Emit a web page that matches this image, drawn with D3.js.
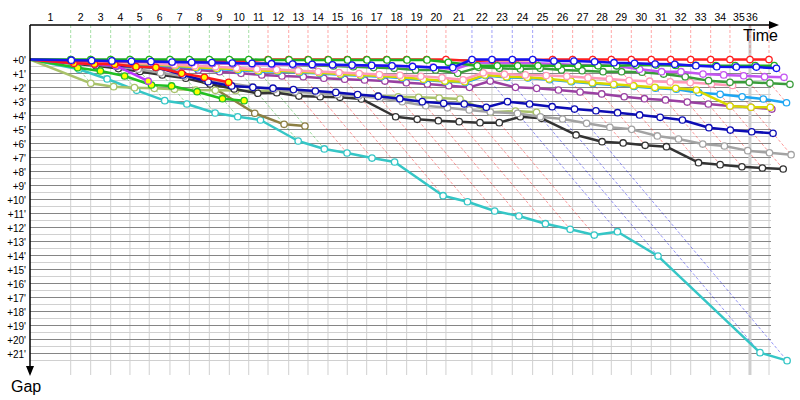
<!DOCTYPE html>
<html><head><meta charset="utf-8">
<script src="https://cdn.jsdelivr.net/npm/d3@7"></script>
<style>body{margin:0;background:#fff}svg{display:block}text{font-family:"Liberation Sans",Arial,sans-serif;fill:#000}</style>
</head><body><svg id="c" width="800" height="400"></svg>
<script>
// ---- data ----
// leader's elapsed time (min) at the end of each lap, lap 0 = start
const lapTimes = [0, 3.44, 5.13, 6.82, 8.45, 10.08, 11.83, 13.47, 15.16, 16.85, 18.49, 20.12, 21.87, 23.50, 25.19, 26.82, 28.46, 30.15, 31.84, 33.53, 35.16, 37.36, 39.05, 40.77, 42.49, 44.18, 45.87, 47.57, 49.14, 50.83, 52.52, 54.16, 55.85, 57.54, 59.17, 60.86, 62.47];
const timeLimit = 60.86;
const lapLabels = ["1","2","3","4","5","6","7","8","9","10","11","12","13","14","15","16","17","18","19","20","21","22","23","24","25","26","27","28","29","30","31","32","33","34","35","36"];
const gapTicks = [0,1,2,3,4,5,6,7,8,9,10,11,12,13,14,15,16,17,18,19,20,21];

// gap to leader (min) per lap, index = lap
const gapCyan = [0, 0.7,1.39,2.2,2.94,3.18,3.82,4.09,4.32,5.82,6.39,6.68,7.04,7.32,9.73,10.16,10.82,11.18,11.73,12.13,12.54,12.3,14.04,20.94,21.51];
const gapDarkOlive = [0, 0.2,0.3,0.4,0.5,0.6,0.75,2.0,3.84,4.63,4.75];
const gapLightOlive = [0, 1.7,1.94,2.01,2.06,2.13,2.18,2.2,2.22,2.25,2.25, 2.3,2.34,2.41,2.59,2.59,2.66,2.7,2.75,2.82, 3.77,3.68,3.77];
const gapBlack = [0, 0.3,0.45,0.65,0.85,1.1,1.34,1.75,2.1,2.41,2.37, 2.61,2.66,2.7,2.82,4.09,4.27,4.37,4.44,4.51,4.51, 4.09,4.2,5.39,5.87,5.96,6.13,6.23,7.37,7.51,7.66,7.75,7.82];
const gapGrey = [0, 0.25,0.35,0.5,0.7,0.95,1.2,1.45,1.7,1.95,2.15, 2.3,2.4,2.5,2.6,2.77,3.01,3.3,3.45,3.6,3.75, 3.85,4.09,4.25,4.56,4.84,4.99,5.46,5.68,6.04,6.18,6.51,6.66,6.8];
const gapNavy = [0, 0.27,0.32,0.44,0.51,0.56,1.1,1.59,1.89,1.99,2.05, 2.15,2.25,2.35,2.5,2.62,2.8,3.01,3.13,3.18,3.41, 3.01,3.18,3.37,3.54, 3.66,3.8,3.96,4.13,4.32,4.87,5.04,5.16,5.27];
const gapPurple = [0, 0.15,0.2,0.3,0.4,0.5,0.6,0.75,0.87,0.99,1.1, 1.18,1.23,1.34,1.41,1.46,1.54,1.66,1.75,1.87,1.99, 1.54,1.99,2.06,2.18, 2.32,2.46,2.66,2.8,2.89,3.04,3.18,3.32,3.41,3.54];
const gapSky = [0, 0.12,0.18,0.24,0.32,0.4,0.5,0.6,0.68,0.76,0.85, 0.85,0.92,1.0,1.09,1.16,1.23,1.32,1.46,1.58,1.64, 1.15,1.28,1.32,1.44, 1.59,1.71,1.82,1.93,2.05,2.12,2.37,2.49,2.66,2.82,3.09];
const gapYellow = [0, 0.1,0.15,0.2,0.3,0.35,0.45,0.55,0.62,0.7,0.8, 0.8,0.87,0.94,1.04,1.11,1.18,1.27,1.41,1.54,1.59, 1.1,1.23,1.27,1.39, 1.54,1.66,1.77,1.87,1.99,2.06,2.18,3.32,3.41,3.41];
const gapPink = [0, 0.1,0.15,0.2,0.25,0.3,0.38,0.45,0.52,0.6,0.68, 0.72,0.8,0.86,0.93,1.0,1.07,1.13,1.2,1.3, 1.45, 0.95,1.05,1.1,1.15, 1.2,1.3,1.4,1.5,1.55,1.6,1.65,1.75,1.85];
const gapForest = [0, 0.05,0.06,0.08,0.1,0.12,0.15,0.2,0.27,0.3,0.3, 0.27,0.39,0.42,0.46,0.51,0.58,0.63,0.75,0.75, 0.99, 0.56,0.63,0.68,0.63, 0.75,0.8,0.87,0.87,0.91,1.04,1.23,1.51,1.63,1.63,1.69,1.77];
const gapViolet = [0, 0.08,0.1,0.12,0.15,0.18,0.2,0.23,0.27,0.3,0.33, 0.36,0.38,0.4,0.4,0.42,0.43,0.45,0.48,0.55, 0.7, 0.23,0.27,0.27,0.27, 0.32,0.39,0.39,0.46,0.7,0.87,0.87,1.04,1.1,1.16,1.23,1.27];
const gapGreenY = [0, 0.59,0.82,1.18,1.82,1.89,2.3,2.8,2.94];
const gapMagentaY = [0, 0.27,0.32,0.44,1.54];
const gapRedY = [0, 0.27,0.32,0.34,0.51,0.56,0.99,1.27,1.63];
const gapRed = [0, 0.1,0.1,0.12,0.12,0.12,0.12,0.12,0.12,0.12,0.12, 0,0,0,0,0,0,0,0,0,0, 0.1,0.06,0.06,0.04, 0,0,0,0,0,0,0,0,0,0,0,0];
const gapGreen = [0, 0,0,0,0,0,0,0,0,0,0, 0.03,0.03,0.03,0.03,0.03,0.03,0.03,0.03,0.03, 0.2, 0.45,0.45,0.45,0.45,0.45,0.45,0.45,0.45, 0.4,0.4,0.42,0.42,0.44,0.44,0.44,0.44];
const gapBlue = [0, 0.05,0.08,0.1,0.13,0.15,0.18,0.2,0.22,0.25,0.28, 0.3,0.33,0.35,0.38,0.4,0.42,0.45,0.5,0.58, 0.58, 0,0,0,0, 0.11,0.11,0.16,0.23,0.27,0.32,0.34,0.44,0.51,0.54,0.54,0.63];

// drawing order bottom -> top; styles kept separate
const series = [
  {gaps: gapCyan, color: "#35c6c6"},
  {gaps: gapDarkOlive, color: "#8c7f42"},
  {gaps: gapLightOlive, color: "#a9c26a"},
  {gaps: gapBlack, color: "#333333"},
  {gaps: gapGrey, color: "#a3a3a3"},
  {gaps: gapNavy, color: "#0c0cb4", yellowUntil: 5},
  {gaps: gapPurple, color: "#9a40a2"},
  {gaps: gapSky, color: "#1ea6f2"},
  {gaps: gapYellow, color: "#d9d900"},
  {gaps: gapPink, color: "#ff9ab8"},
  {gaps: gapForest, color: "#3a9c3a"},
  {gaps: gapViolet, color: "#c455f2"},
  {gaps: gapGreenY, color: "#22c022", yellowUntil: 99},
  {gaps: gapMagentaY, color: "#bb33ff", yellowUntil: 99},
  {gaps: gapRedY, color: "#ff1a1a", yellowUntil: 99},
  {gaps: gapRed, color: "#ff2020"},
  {gaps: gapGreen, color: "#1fb01f"},
  {gaps: gapBlue, color: "#1414ee"}
];

// ---- layout ----
const svg = d3.select("#c");
const x = d3.scaleLinear().domain([0, lapTimes[lapTimes.length - 1]]).range([30, 769]);
const y = d3.scaleLinear().domain([0, 21.5]).range([59.5, 360.5]);
const yTop = 25, yBottom = 375, xRight = 771;
const nLaps = lapTimes.length - 1;

const g = svg.append("g");
g.selectAll("line.hm").data(d3.range(0.5, 22, 1)).join("line")
  .attr("x1", 30).attr("x2", xRight).attr("y1", d => y(d)).attr("y2", d => y(d))
  .attr("stroke", "#d0d0d0").attr("stroke-width", 1);
g.selectAll("line.v").data(d3.range(1, nLaps + 1)).join("line")
  .attr("x1", d => x(lapTimes[d])).attr("x2", d => x(lapTimes[d]))
  .attr("y1", y(0)).attr("y2", yBottom)
  .attr("stroke", "#d0d0d0").attr("stroke-width", 1);
g.selectAll("line.m").data(gapTicks).join("line")
  .attr("x1", 30).attr("x2", xRight).attr("y1", d => y(d)).attr("y2", d => y(d))
  .attr("stroke", "#858585").attr("stroke-width", 1);
g.append("line").attr("x1", x(timeLimit)).attr("x2", x(timeLimit)).attr("y1", yTop).attr("y2", yBottom)
  .attr("stroke", "#cfcfcf").attr("stroke-width", 3);

const leaderColor = [], maxGap = [];
for (let n = 1; n <= nLaps; n++) {
  let best = null, bg = Infinity, mg = 0;
  series.forEach(s => {
    const v = s.gaps[n];
    if (v == null) return;
    if (v < bg) { bg = v; best = s; }
    if (v > mg) mg = v;
  });
  leaderColor[n] = best.color; maxGap[n] = mg;
}
const laps = d3.range(1, nLaps + 1);
g.selectAll("line.lap").data(laps).join("line")
  .attr("x1", d => x(lapTimes[d])).attr("x2", d => x(lapTimes[d]))
  .attr("y1", yTop).attr("y2", y(0))
  .attr("stroke", d => leaderColor[d]).attr("stroke-opacity", 0.4)
  .attr("stroke-width", 1).attr("stroke-dasharray", "3,2");
g.selectAll("line.diag").data(laps).join("line")
  .attr("x1", d => x(lapTimes[d])).attr("y1", y(0))
  .attr("x2", d => x(lapTimes[d] + maxGap[d])).attr("y2", d => y(maxGap[d]))
  .attr("stroke", d => leaderColor[d]).attr("stroke-opacity", 0.45)
  .attr("stroke-width", 1).attr("stroke-dasharray", "3,2");

const line = d3.line().x(d => x(lapTimes[d.lap] + d.gap)).y(d => y(d.gap));
series.forEach(s => {
  const pts = s.gaps.map((v, i) => ({lap: i, gap: v})).filter(d => d.gap != null);
  const sg = svg.append("g");
  sg.append("path").attr("d", line(pts)).attr("fill", "none")
    .attr("stroke", s.color).attr("stroke-width", 2.5).attr("stroke-linejoin", "round");
  sg.selectAll("circle").data(pts.filter(d => d.lap > 0)).join("circle")
    .attr("cx", d => x(lapTimes[d.lap] + d.gap)).attr("cy", d => y(d.gap)).attr("r", 3.2)
    .attr("fill", d => (s.yellowUntil && d.lap <= s.yellowUntil) ? "#ffff00" : "#fff")
    .attr("stroke", s.color).attr("stroke-width", 1.3);
});

const ax = svg.append("g");
ax.append("line").attr("x1", 30).attr("x2", 772).attr("y1", yTop).attr("y2", yTop).attr("stroke", "#000").attr("stroke-width", 1.5);
ax.append("path").attr("d", `M779,${yTop} L769,${yTop-4} L769,${yTop+4} Z`).attr("fill", "#000");
ax.append("line").attr("x1", 30).attr("x2", 30).attr("y1", yTop).attr("y2", 368).attr("stroke", "#000").attr("stroke-width", 1.5);
ax.append("path").attr("d", `M30,376 L26,366 L34,366 Z`).attr("fill", "#000");

ax.selectAll("text.lap").data(lapLabels).join("text")
  .attr("x", (d, i) => i === lapLabels.length - 1 ? x(timeLimit) + 2 : (x(lapTimes[i]) + x(lapTimes[i + 1])) / 2 - (i === lapLabels.length - 2 ? 1 : 0))
  .attr("y", 21).attr("text-anchor", "middle").attr("font-size", 10.5).text(d => d);
ax.selectAll("text.tk").data(gapTicks).join("text")
  .attr("x", 26).attr("y", d => y(d) + 4).attr("text-anchor", "end").attr("font-size", 10)
  .text(d => "+" + d + "'");
ax.append("text").attr("x", 743).attr("y", 41).attr("font-size", 16).text("Time");
ax.append("text").attr("x", 11).attr("y", 392).attr("font-size", 16).text("Gap");
</script></body></html>
